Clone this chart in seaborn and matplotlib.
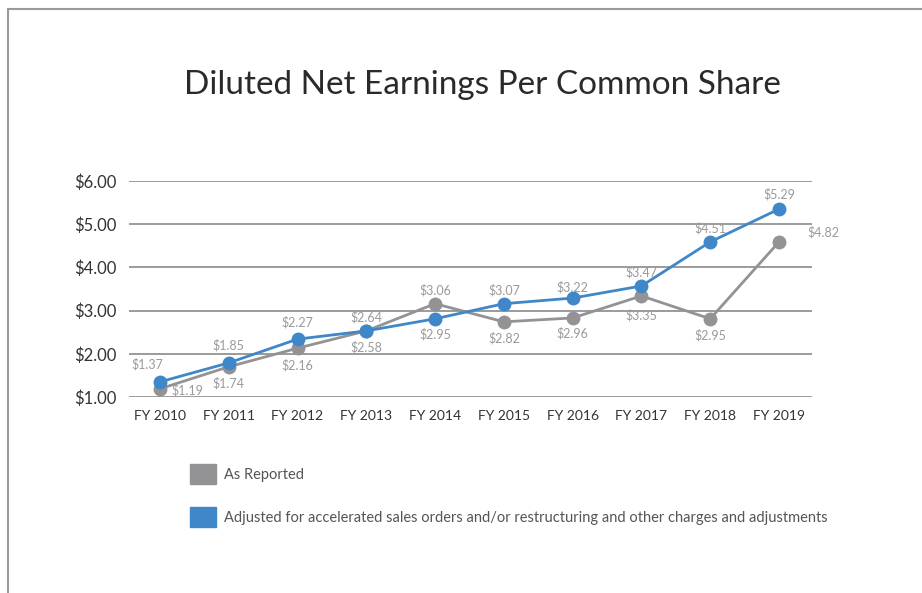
import matplotlib
matplotlib.use("Agg")
import matplotlib.pyplot as plt
from matplotlib.lines import Line2D
from matplotlib.patches import Patch
import seaborn as sns
import pandas as pd

years = ["FY 2010", "FY 2011", "FY 2012", "FY 2013", "FY 2014",
         "FY 2015", "FY 2016", "FY 2017", "FY 2018", "FY 2019"]

# plotted positions
reported = [1.19, 1.70, 2.13, 2.53, 3.16, 2.74, 2.83, 3.34, 2.81, 4.59]
adjusted = [1.35, 1.79, 2.34, 2.53, 2.81, 3.16, 3.29, 3.57, 4.59, 5.35]

# value labels as printed on the chart
reported_labels = ["$1.19", "$1.74", "$2.16", "$2.58", "$3.06",
                   "$2.82", "$2.96", "$3.35", "$2.95", "$4.82"]
adjusted_labels = ["$1.37", "$1.85", "$2.27", "$2.64", "$2.95",
                   "$3.07", "$3.22", "$3.47", "$4.51", "$5.29"]

series_names = ["As Reported",
                "Adjusted for accelerated sales orders and/or restructuring and other charges and adjustments"]
y_ticks = [1, 2, 3, 4, 5, 6]

GRAY = "#939396"
BLUE = "#3F87C8"
LABEL = "#9a9a9c"

sns.set_style("white")
plt.rcParams["font.family"] = ["Lato", "DejaVu Sans"]

df = pd.DataFrame({
    "year": years * 2,
    "eps": reported + adjusted,
    "series": [series_names[0]] * len(years) + [series_names[1]] * len(years),
})

fig = plt.figure(figsize=(9.22, 5.93), dpi=100)
ax = fig.add_axes([0.1399, 0.3305, 0.7408, 0.3643])

sns.lineplot(data=df, x="year", y="eps", hue="series", sort=False,
             palette=[GRAY, BLUE], marker="o", markersize=10,
             markeredgewidth=0, linewidth=2, legend=False, ax=ax)

# label offsets (points) for each value
rep_off = [(20, -1), (0, -12), (0, -12), (0, -12), (0, 10),
           (0, -12), (0, -11), (0, -14), (0, -12), (32, 7)]
adj_off = [(-9, 13), (0, 13), (0, 12), (0, 10), (0, -11),
           (0, 10), (0, 8), (0, 10), (0, 10), (0, 11)]
for i in range(len(years)):
    ax.annotate(reported_labels[i], (i, reported[i]), xytext=rep_off[i],
                textcoords="offset points", ha="center", va="center",
                fontsize=9, color=LABEL)
    ax.annotate(adjusted_labels[i], (i, adjusted[i]), xytext=adj_off[i],
                textcoords="offset points", ha="center", va="center",
                fontsize=9, color=LABEL)

ax.set_xlim(-0.45, 9.48)
ax.set_ylim(1, 6)
ax.set_yticks(y_ticks)
ax.set_yticklabels([f"${v:.2f}" for v in y_ticks], fontsize=12, color="#333333")
ax.grid(axis="y", color="#8a8a8a", linewidth=1.2)
ax.grid(axis="x", visible=False)
ax.tick_params(axis="y", length=0, pad=9)
ax.tick_params(axis="x", length=0, pad=9, labelsize=10, labelcolor="#333333")
ax.set_xlabel("")
ax.set_ylabel("")
for s in ax.spines.values():
    s.set_visible(False)
ax.set_axisbelow(True)

fig.text(482 / 922, 1 - 85 / 593, "Diluted Net Earnings Per Common Share",
         ha="center", va="center", fontsize=24, color="#2a2a2a")

handles = [Patch(color=GRAY), Patch(color=BLUE)]
fig.legend(handles, series_names, loc="upper left",
           bbox_to_anchor=(190 / 922, 1 - 464 / 593), frameon=False,
           fontsize=10.5, handlelength=1.75, handleheight=1.75, handletextpad=0.6,
           labelspacing=1.55, borderpad=0, borderaxespad=0, labelcolor="#555555")

# page frame
fig.add_artist(Line2D([7.5 / 922, 7.5 / 922], [0, 1 - 9 / 593], color="#9a9a9a", lw=1.5))
fig.add_artist(Line2D([7.5 / 922, 1], [1 - 9 / 593, 1 - 9 / 593], color="#9a9a9a", lw=1.5))

fig.savefig("out.png", dpi=100)
